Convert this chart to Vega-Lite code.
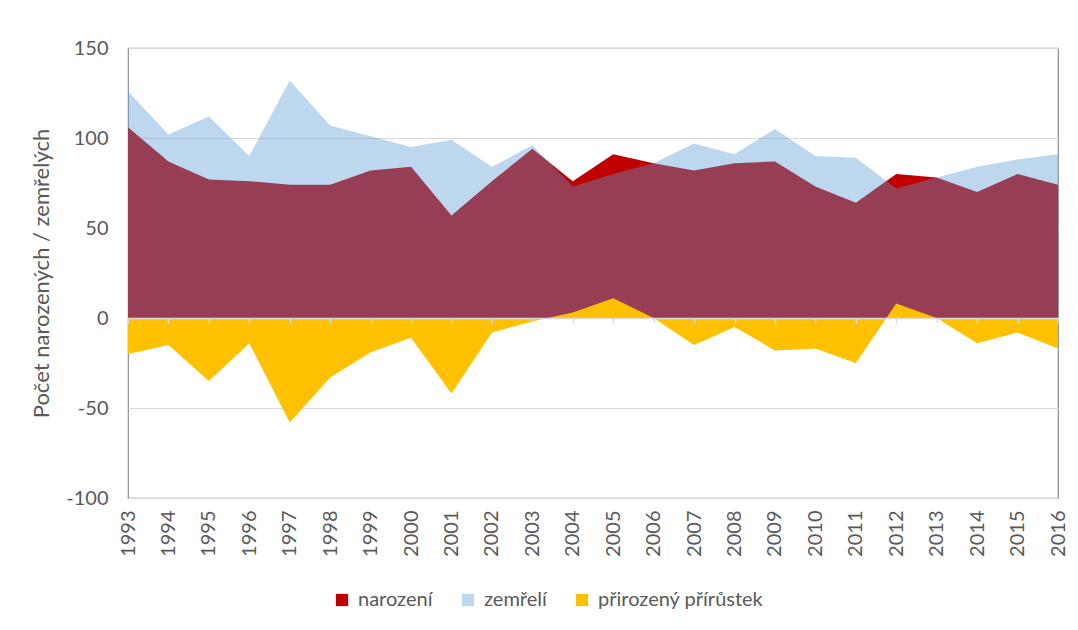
{
  "$schema": "https://vega.github.io/schema/vega-lite/v6.json",
  "width": 930,
  "height": 450,
  "autosize": {"type": "none"},
  "padding": {"left": 128, "top": 48, "right": 20, "bottom": 132},
  "background": "white",
  "config": {
    "font": "Lato",
    "view": {"stroke": "#8c8c8c", "strokeWidth": 1.2}
  },
  "data": {
    "values": [
      {"rok": 1993, "serie": "narození", "hodnota": 106}, {"rok": 1993, "serie": "zemřelí", "hodnota": 126}, {"rok": 1993, "serie": "přirozený přírůstek", "hodnota": -20},
      {"rok": 1994, "serie": "narození", "hodnota": 87}, {"rok": 1994, "serie": "zemřelí", "hodnota": 102}, {"rok": 1994, "serie": "přirozený přírůstek", "hodnota": -15},
      {"rok": 1995, "serie": "narození", "hodnota": 77}, {"rok": 1995, "serie": "zemřelí", "hodnota": 112}, {"rok": 1995, "serie": "přirozený přírůstek", "hodnota": -35},
      {"rok": 1996, "serie": "narození", "hodnota": 76}, {"rok": 1996, "serie": "zemřelí", "hodnota": 90}, {"rok": 1996, "serie": "přirozený přírůstek", "hodnota": -14},
      {"rok": 1997, "serie": "narození", "hodnota": 74}, {"rok": 1997, "serie": "zemřelí", "hodnota": 132}, {"rok": 1997, "serie": "přirozený přírůstek", "hodnota": -58},
      {"rok": 1998, "serie": "narození", "hodnota": 74}, {"rok": 1998, "serie": "zemřelí", "hodnota": 107}, {"rok": 1998, "serie": "přirozený přírůstek", "hodnota": -33},
      {"rok": 1999, "serie": "narození", "hodnota": 82}, {"rok": 1999, "serie": "zemřelí", "hodnota": 101}, {"rok": 1999, "serie": "přirozený přírůstek", "hodnota": -19},
      {"rok": 2000, "serie": "narození", "hodnota": 84}, {"rok": 2000, "serie": "zemřelí", "hodnota": 95}, {"rok": 2000, "serie": "přirozený přírůstek", "hodnota": -11},
      {"rok": 2001, "serie": "narození", "hodnota": 57}, {"rok": 2001, "serie": "zemřelí", "hodnota": 99}, {"rok": 2001, "serie": "přirozený přírůstek", "hodnota": -42},
      {"rok": 2002, "serie": "narození", "hodnota": 76}, {"rok": 2002, "serie": "zemřelí", "hodnota": 84}, {"rok": 2002, "serie": "přirozený přírůstek", "hodnota": -8},
      {"rok": 2003, "serie": "narození", "hodnota": 94}, {"rok": 2003, "serie": "zemřelí", "hodnota": 96}, {"rok": 2003, "serie": "přirozený přírůstek", "hodnota": -2},
      {"rok": 2004, "serie": "narození", "hodnota": 76}, {"rok": 2004, "serie": "zemřelí", "hodnota": 73}, {"rok": 2004, "serie": "přirozený přírůstek", "hodnota": 3},
      {"rok": 2005, "serie": "narození", "hodnota": 91}, {"rok": 2005, "serie": "zemřelí", "hodnota": 80}, {"rok": 2005, "serie": "přirozený přírůstek", "hodnota": 11},
      {"rok": 2006, "serie": "narození", "hodnota": 86}, {"rok": 2006, "serie": "zemřelí", "hodnota": 86}, {"rok": 2006, "serie": "přirozený přírůstek", "hodnota": 0},
      {"rok": 2007, "serie": "narození", "hodnota": 82}, {"rok": 2007, "serie": "zemřelí", "hodnota": 97}, {"rok": 2007, "serie": "přirozený přírůstek", "hodnota": -15},
      {"rok": 2008, "serie": "narození", "hodnota": 86}, {"rok": 2008, "serie": "zemřelí", "hodnota": 91}, {"rok": 2008, "serie": "přirozený přírůstek", "hodnota": -5},
      {"rok": 2009, "serie": "narození", "hodnota": 87}, {"rok": 2009, "serie": "zemřelí", "hodnota": 105}, {"rok": 2009, "serie": "přirozený přírůstek", "hodnota": -18},
      {"rok": 2010, "serie": "narození", "hodnota": 73}, {"rok": 2010, "serie": "zemřelí", "hodnota": 90}, {"rok": 2010, "serie": "přirozený přírůstek", "hodnota": -17},
      {"rok": 2011, "serie": "narození", "hodnota": 64}, {"rok": 2011, "serie": "zemřelí", "hodnota": 89}, {"rok": 2011, "serie": "přirozený přírůstek", "hodnota": -25},
      {"rok": 2012, "serie": "narození", "hodnota": 80}, {"rok": 2012, "serie": "zemřelí", "hodnota": 72}, {"rok": 2012, "serie": "přirozený přírůstek", "hodnota": 8},
      {"rok": 2013, "serie": "narození", "hodnota": 78}, {"rok": 2013, "serie": "zemřelí", "hodnota": 78}, {"rok": 2013, "serie": "přirozený přírůstek", "hodnota": 0},
      {"rok": 2014, "serie": "narození", "hodnota": 70}, {"rok": 2014, "serie": "zemřelí", "hodnota": 84}, {"rok": 2014, "serie": "přirozený přírůstek", "hodnota": -14},
      {"rok": 2015, "serie": "narození", "hodnota": 80}, {"rok": 2015, "serie": "zemřelí", "hodnota": 88}, {"rok": 2015, "serie": "přirozený přírůstek", "hodnota": -8},
      {"rok": 2016, "serie": "narození", "hodnota": 74}, {"rok": 2016, "serie": "zemřelí", "hodnota": 91}, {"rok": 2016, "serie": "přirozený přírůstek", "hodnota": -17}
    ]
  },
  "layer": [
    {
      "transform": [{"filter": "datum.serie === 'narození'"}],
      "mark": {"type": "area", "interpolate": "linear", "opacity": 1},
      "encoding": {
        "x": {"field": "rok", "type": "ordinal", "scale": {"type": "point", "padding": 0},
          "axis": {"orient": "bottom", "domain": false, "ticks": false, "grid": false, "labelAngle": -90, "labelPadding": 12, "labelFontSize": 20, "labelColor": "#595959", "title": null}},
        "y": {"field": "hodnota", "type": "quantitative", "stack": null, "scale": {"domain": [-100, 150], "nice": false},
          "axis": {"values": [-100, -50, 0, 50, 100, 150], "labelExpr": "replace(datum.label, '−', '-')", "grid": true, "gridColor": "#D9D9D9", "gridWidth": 1.2, "domain": false, "ticks": false, "labelPadding": 20, "labelFontSize": 20, "labelColor": "#595959", "title": "Počet narozených / zemřelých", "titleFontSize": 22, "titleColor": "#595959", "titleFontWeight": "normal", "titlePadding": 12}},
        "color": {"field": "serie", "type": "nominal", "scale": {"domain": ["narození", "zemřelí", "přirozený přírůstek"], "range": ["#C00000", "#BDD7EE", "#FFC000"]},
          "legend": {"orient": "none", "legendX": 204, "legendY": 542, "direction": "horizontal", "title": null, "symbolType": "square", "symbolSize": 150, "symbolStrokeWidth": 0, "labelFontSize": 20, "labelColor": "#595959", "labelLimit": 400, "columnPadding": 25, "labelOffset": 6}}
      }
    },
    {
      "transform": [{"filter": "datum.serie === 'zemřelí'"}],
      "mark": {"type": "area", "interpolate": "linear", "fill": "#5B9BD5", "opacity": 0.4},
      "encoding": {
        "x": {"field": "rok", "type": "ordinal", "axis": null},
        "y": {"field": "hodnota", "type": "quantitative", "stack": null}
      }
    },
    {
      "transform": [{"filter": "datum.serie === 'přirozený přírůstek'"}],
      "mark": {"type": "area", "interpolate": "linear", "opacity": 1},
      "encoding": {
        "x": {"field": "rok", "type": "ordinal",
          "axis": {"orient": "bottom", "offset": -180, "labels": false, "domain": true, "domainColor": "#D9D9D9", "domainWidth": 1.5, "ticks": true, "tickColor": "#D9D9D9", "tickSize": 5, "tickWidth": 1.5, "grid": false, "title": null, "zindex": 1}},
        "y": {"field": "hodnota", "type": "quantitative", "stack": null},
        "color": {"field": "serie", "type": "nominal"}
      }
    }
  ],
  "resolve": {"axis": {"x": "independent"}}
}
